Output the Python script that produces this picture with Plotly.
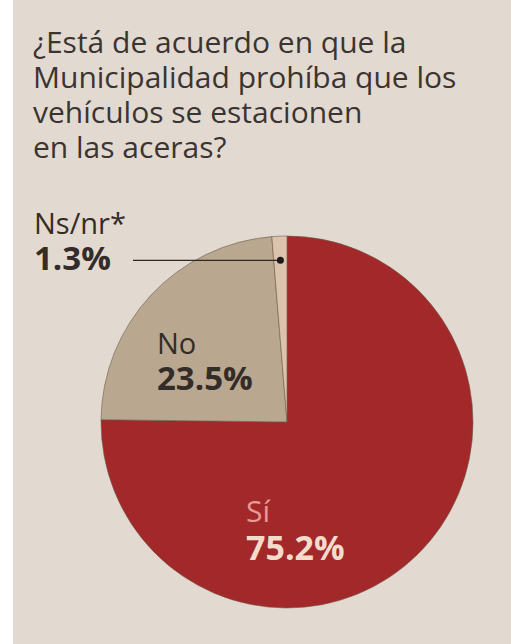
import math
import plotly.graph_objects as go

# Data
labels = ["Sí", "No", "Ns/nr*"]
values = [75.2, 23.5, 1.3]
title_lines = ["¿Está de acuerdo en que la", "Municipalidad prohíba que los",
               "vehículos se estacionen", "en las aceras?"]

colors = ["#a3282a", "#b9a790", "#dcc3ad"]
W, H = 511, 644
cx, cy, R = 287, 422, 186  # pixel geometry of pie (from top-left)


def px(x):
    return x / W


def py(y):
    return 1 - y / H


fig = go.Figure()
fig.add_trace(go.Pie(
    labels=labels, values=values, sort=False, direction="clockwise", rotation=0,
    marker=dict(colors=colors, line=dict(color="#6e5a4a", width=0.6)),
    textinfo="none", hoverinfo="label+percent", showlegend=False,
    domain=dict(x=[px(cx - R), px(cx + R)], y=[py(cy + R), py(cy - R)]),
))

font_fam = "Open Sans, Noto Sans, sans-serif"
ann = []


def sz(text, size):
    return f'<span style="font-size:{size}px">{text}</span>'


def add_text(text, x, ycenter, base, color):
    ann.append(dict(text=text, x=px(x), y=py(ycenter), xref="paper", yref="paper",
                    xanchor="left", yanchor="middle", align="left", showarrow=False,
                    font=dict(family=font_fam, size=base, color=color)))


# Title (base size sets line spacing)
add_text("<br>".join(sz(l, 30) for l in title_lines), 31, 94, 27, "#3b3431")

# Ns/nr
add_text(sz(labels[2], 29) + "<br>" + sz(f"<b>{values[2]}%</b>", 33), 32, 241, 28, "#332c28")
# No
add_text(sz(labels[1], 29) + "<br>" + sz(f"<b>{values[1]}%</b>", 33), 155, 361, 27.5, "#332c28")
# Sí
add_text(sz(f'<span style="color:#e79a92">{labels[0]}</span>', 30) + "<br>"
         + sz(f"<b>{values[0]}%</b>", 34), 244, 530, 29.5, "#f3dccb")

# Leader line to Ns/nr slice (angle computed from data)
total = sum(values)
mid_frac = (values[0] + values[1] + values[2] / 2) / total
ang = 2 * math.pi * mid_frac  # clockwise from top
r_dot = 0.87 * R
dot_x = cx + r_dot * math.sin(ang)
dot_y = cy - r_dot * math.cos(ang)

shapes = [
    dict(type="rect", xref="paper", yref="paper", x0=0, x1=px(13), y0=0, y1=1,
         fillcolor="#ffffff", line=dict(width=0), layer="below"),
    dict(type="line", xref="paper", yref="paper", x0=px(133), x1=px(dot_x),
         y0=py(dot_y), y1=py(dot_y), line=dict(color="#2f2925", width=1.3)),
    dict(type="circle", xref="paper", yref="paper", x0=px(dot_x - 3.5), x1=px(dot_x + 3.5),
         y0=py(dot_y + 3.5), y1=py(dot_y - 3.5), fillcolor="#1e1a18", line=dict(width=0)),
]

fig.update_layout(
    width=W, height=H, margin=dict(l=0, r=0, t=0, b=0),
    paper_bgcolor="#e2dad1", plot_bgcolor="#e2dad1",
    annotations=ann, shapes=shapes,
)
fig.write_html("out.html", config={"displayModeBar": False},
               post_script="document.body.style.margin='0';document.body.style.overflow='hidden';")
